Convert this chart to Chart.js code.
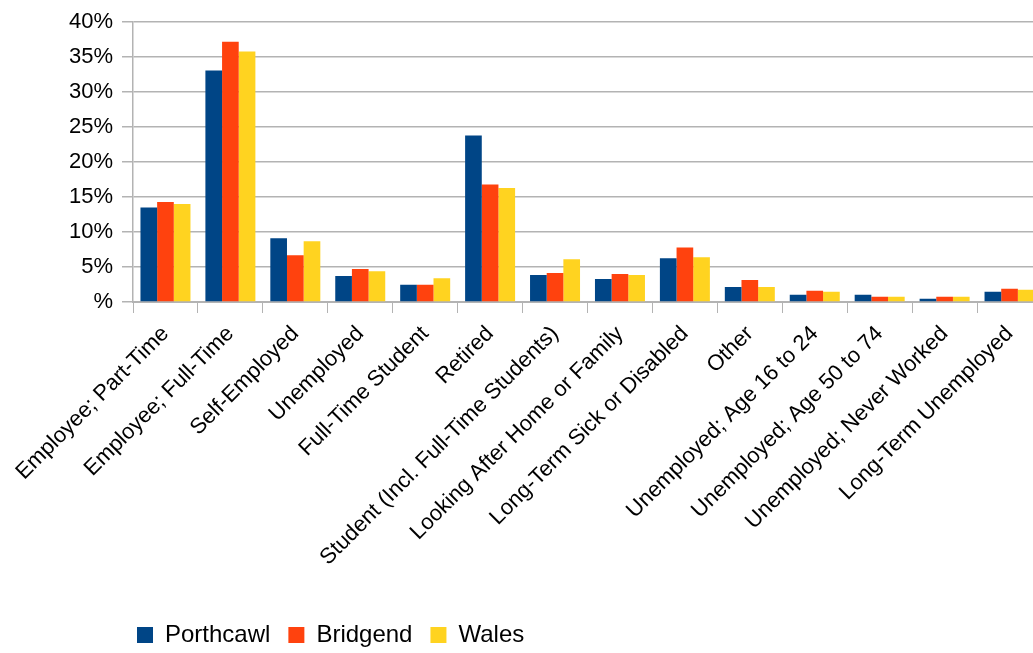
<!DOCTYPE html>
<html>
<head>
<meta charset="utf-8">
<script src="https://cdn.jsdelivr.net/npm/chart.js@4.4.1/dist/chart.umd.min.js"></script>
<style>
	html, body { margin: 0; padding: 0; background: #fff; overflow: hidden; }
	#wrap { width: 1033px; height: 653px; overflow: hidden; }
</style>
</head>
<body>
<div id="wrap"><canvas id="status-chart" width="1045" height="653"></canvas></div>
<script>
// Economic activity, share of residents aged 16-74
const categories = [
	'Employee; Part-Time',
	'Employee; Full-Time',
	'Self-Employed',
	'Unemployed',
	'Full-Time Student',
	'Retired',
	'Student (Incl. Full-Time Students)',
	'Looking After Home or Family',
	'Long-Term Sick or Disabled',
	'Other',
	'Unemployed; Age 16 to 24',
	'Unemployed; Age 50 to 74',
	'Unemployed; Never Worked',
	'Long-Term Unemployed'
];

const porthcawl = [13.5, 33.1, 9.1, 3.7, 2.45, 23.8, 3.85, 3.3, 6.25, 2.15, 1.05, 1.05, 0.45, 1.45];
const bridgend  = [14.3, 37.2, 6.7, 4.7, 2.45, 16.8, 4.15, 4.0, 7.8, 3.15, 1.6, 0.75, 0.75, 1.9];
const wales     = [14.0, 35.8, 8.7, 4.4, 3.4, 16.3, 6.1, 3.85, 6.4, 2.15, 1.45, 0.75, 0.75, 1.75];

const yTicks = [0, 5, 10, 15, 20, 25, 30, 35, 40];

const FONT = '"Liberation Sans", Arial, sans-serif';
const GRID = '#b3b3b3';
const LEGEND_PAD = 18;

// put the legend row under the category labels, lined up with the plot's left edge
const legendPlacer = {
	id: 'legendPlacer',
	afterLayout(chart) {
		const lg = chart.legend;
		if (!lg) return;
		lg.left = 137 - LEGEND_PAD;
		lg.top = 635 - 12 - LEGEND_PAD;
	}
};

const ctx = document.getElementById('status-chart');
new Chart(ctx, {
	type: 'bar',
	data: {
		labels: categories,
		datasets: [
			{ label: 'Porthcawl', data: porthcawl, backgroundColor: '#004586', borderWidth: 0 },
			{ label: 'Bridgend', data: bridgend, backgroundColor: '#ff420e', borderWidth: 0 },
			{ label: 'Wales', data: wales, backgroundColor: '#ffd320', borderWidth: 0 }
		]
	},
	plugins: [legendPlacer],
	options: {
		responsive: false,
		animation: false,
		devicePixelRatio: 1,
		layout: { padding: { top: 19, right: 3, left: 0, bottom: 0 } },
		datasets: {
			bar: { categoryPercentage: 0.77, barPercentage: 1.0 }
		},
		plugins: {
			tooltip: { enabled: false },
			legend: {
				position: 'bottom',
				align: 'start',
				labels: {
					boxWidth: 16,
					boxHeight: 16,
					padding: LEGEND_PAD,
					color: '#000',
					font: { family: FONT, size: 24 }
				}
			}
		},
		scales: {
			x: {
				grid: {
					display: true,
					drawOnChartArea: false,
					drawTicks: true,
					tickLength: 11,
					color: GRID,
					offset: true
				},
				border: { display: true, color: GRID, width: 2 },
				ticks: {
					autoSkip: false,
					maxRotation: 45,
					minRotation: 45,
					padding: 8,
					color: '#000',
					font: { family: FONT, size: 22 }
				},
				afterFit(scale) {
					const lg = scale.chart.legend;
					const lgH = lg && lg.height ? lg.height : 34 + 2 * LEGEND_PAD;
					scale.height = 653 - 302 - lgH;
				}
			},
			y: {
				min: 0,
				max: 40,
				afterBuildTicks(scale) {
					scale.ticks = yTicks.map(v => ({ value: v }));
				},
				grid: {
					color: GRID,
					tickLength: 11,
					lineWidth: 1.5
				},
				border: { display: true, color: GRID, width: 1.5 },
				ticks: {
					padding: 9,
					color: '#000',
					font: { family: FONT, size: 22 },
					callback: v => (v === 0 ? '%' : v + '%')
				},
				afterFit(scale) {
					scale.width = 133;
				}
			}
		}
	}
});
</script>
</body>
</html>
